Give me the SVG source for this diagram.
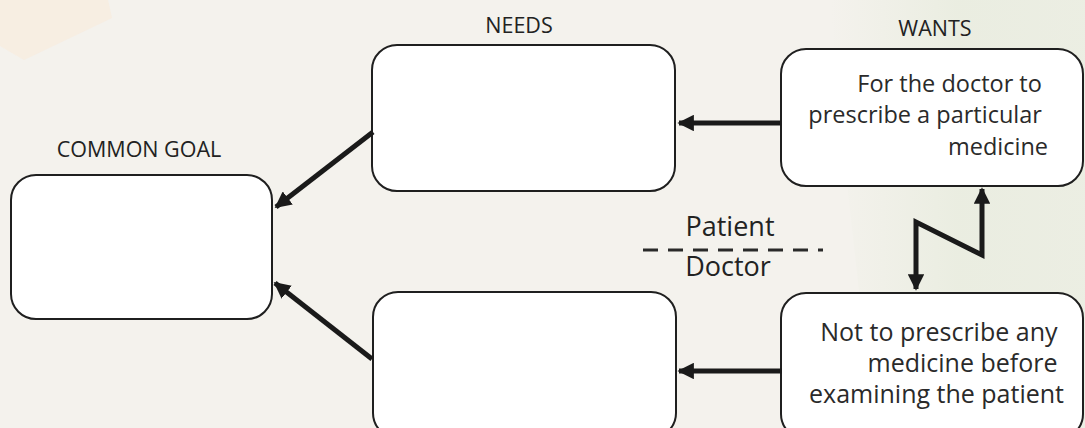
<svg xmlns="http://www.w3.org/2000/svg" width="1085" height="428" viewBox="0 0 1085 428">
  <defs>
    <marker id="head" viewBox="0 0 10 10" refX="9" refY="5" markerWidth="3.3" markerHeight="3.3" orient="auto-start-reverse" markerUnits="strokeWidth">
      <path d="M0,0 L10,5 L0,10 z" fill="#1a1a1a"/>
    </marker>
    <linearGradient id="greenTint" x1="0" y1="0" x2="1" y2="0">
      <stop offset="0" stop-color="#e8ecde" stop-opacity="0"/>
      <stop offset="0.5" stop-color="#e8ecde" stop-opacity="0.8"/>
      <stop offset="1" stop-color="#e6ebdc" stop-opacity="0.6"/>
    </linearGradient>
  </defs>
  <style>
    .box { fill: #ffffff; stroke: #1f1f1f; stroke-width: 2; }
    .label { font-family: "Open Sans", "Liberation Sans", sans-serif; font-size: 21.5px; fill: #222222; text-anchor: middle; }
    .body { font-family: "Open Sans", "Liberation Sans", sans-serif; font-size: 23.5px; fill: #2a2a2a; text-anchor: end; }
    .side { font-family: "Open Sans", "Liberation Sans", sans-serif; font-size: 27px; fill: #222222; text-anchor: middle; }
    .arrow { fill: none; stroke: #1a1a1a; stroke-width: 5; marker-end: url(#head); }
    .zig { fill: none; stroke: #1a1a1a; stroke-width: 5; stroke-linejoin: miter; marker-start: url(#head); marker-end: url(#head); }
    .divider { stroke: #2a2a2a; stroke-width: 3; stroke-dasharray: 15 10; }
  </style>

  <!-- paper background with soft tinted patches -->
  <rect width="1085" height="428" fill="#f4f2ed"/>
  <polygon points="0,0 108,0 112,18 24,60 0,46" fill="#f8ecde" opacity="0.8"/>
  <polygon points="830,0 1085,0 1085,428 930,428 860,300 840,120" fill="url(#greenTint)"/>

  <!-- section headings -->
  <text class="label" x="519" y="33">NEEDS</text>
  <text class="label" x="935" y="36">WANTS</text>
  <text class="label" x="139" y="157">COMMON GOAL</text>

  <g id="common-goal">
    <rect class="box" x="11" y="175" width="261" height="144" rx="25"/>
  </g>

  <g id="needs-patient">
    <rect class="box" x="372" y="45" width="303" height="146" rx="25"/>
  </g>

  <g id="needs-doctor">
    <rect class="box" x="373" y="292" width="303" height="146" rx="25"/>
  </g>

  <g id="wants-patient">
    <rect class="box" x="781" y="49" width="302" height="137" rx="25"/>
    <text class="body">
      <tspan x="1048" y="92">For the doctor to</tspan>
      <tspan x="1048" y="123">prescribe a particular</tspan>
      <tspan x="1048" y="155">medicine</tspan>
    </text>
  </g>

  <g id="wants-doctor">
    <rect class="box" x="781" y="293" width="302" height="146" rx="25"/>
    <text class="body" style="font-size:25px">
      <tspan x="1064" y="341">Not to prescribe any</tspan>
      <tspan x="1064" y="372">medicine before</tspan>
      <tspan x="1064" y="403">examining the patient</tspan>
    </text>
  </g>

  <!-- patient / doctor divider -->
  <g id="divider">
    <line class="divider" x1="643" y1="250" x2="823" y2="250"/>
    <text class="side" x="730" y="236">Patient</text>
    <text class="side" x="728" y="276">Doctor</text>
  </g>

  <g id="connectors">
    <line class="arrow" x1="781" y1="123" x2="679" y2="123"/>
    <line class="arrow" x1="782" y1="371" x2="679" y2="371"/>
    <line class="arrow" x1="373" y1="132" x2="276" y2="207"/>
    <line class="arrow" x1="372" y1="359" x2="275" y2="283"/>
    <polyline class="zig" points="916,289 916,222 982,255 982,189"/>
  </g>
</svg>
